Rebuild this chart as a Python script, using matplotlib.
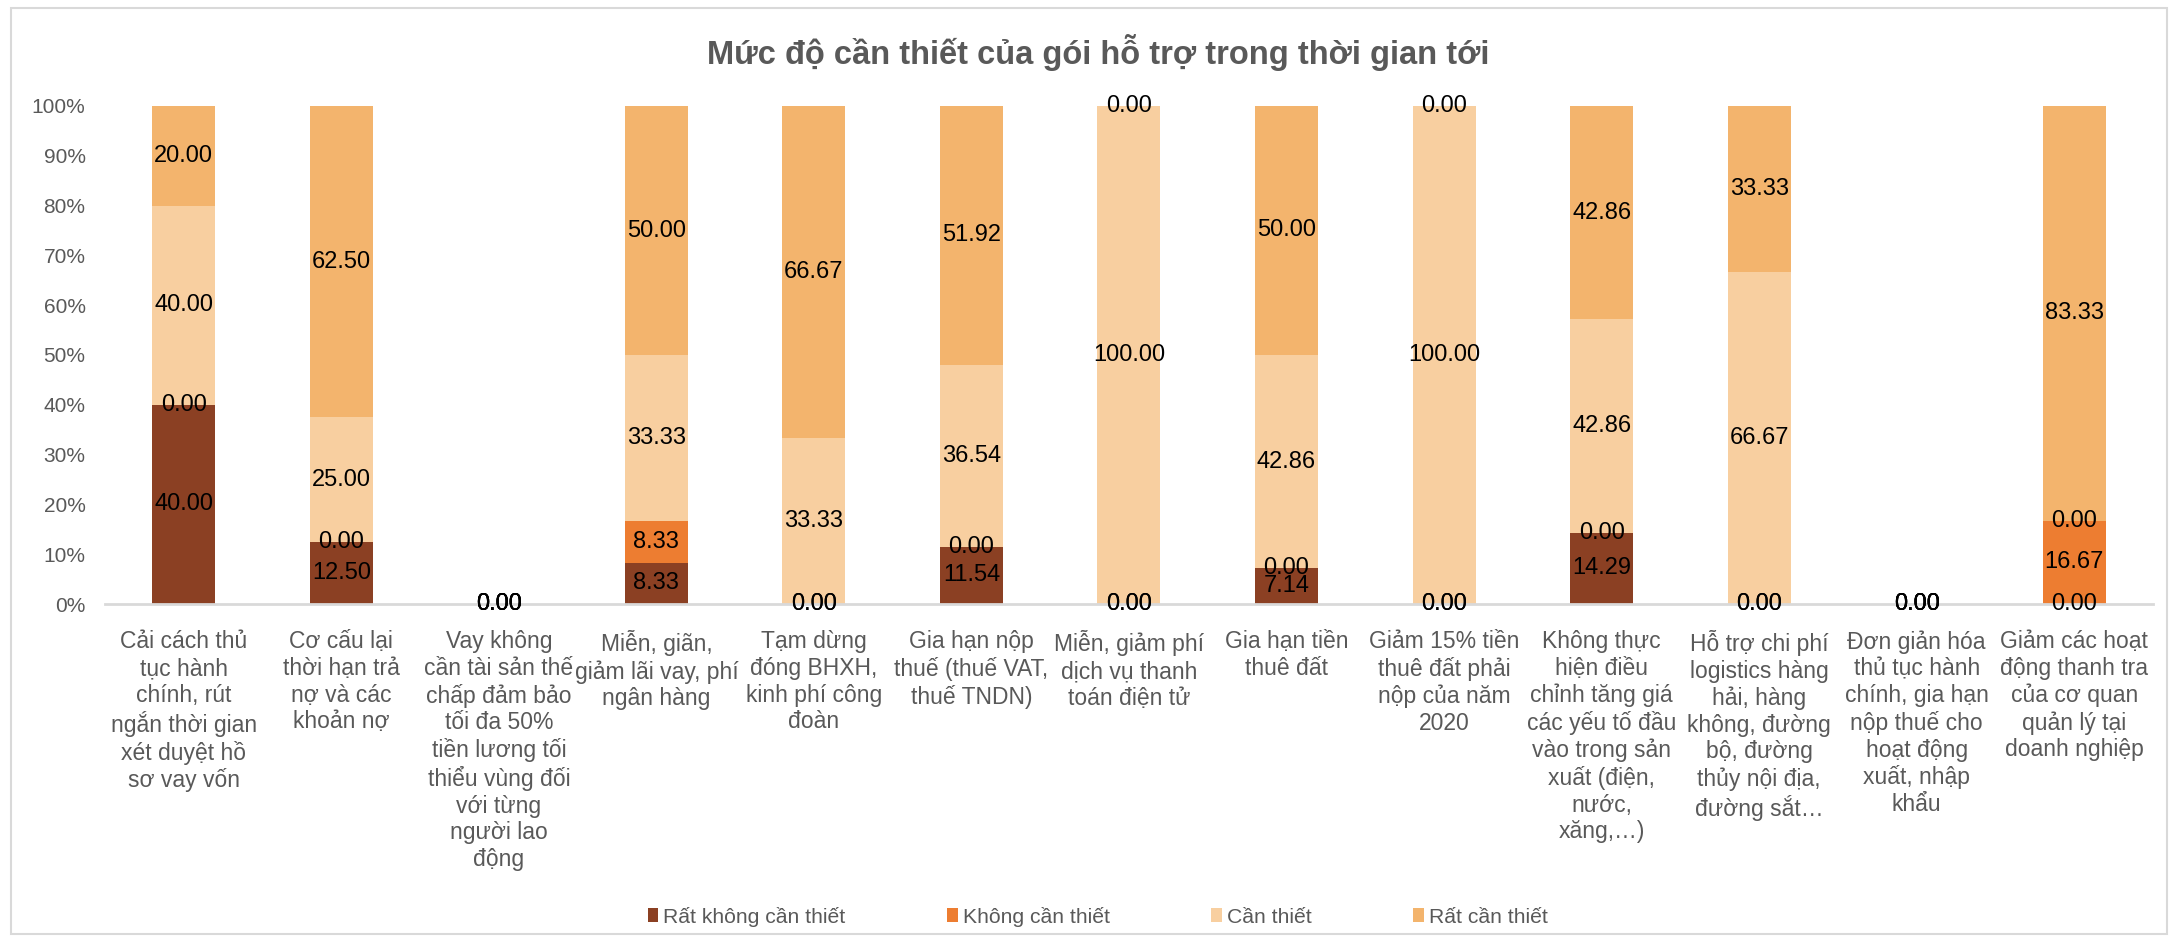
import matplotlib
matplotlib.use("Agg")
import matplotlib.pyplot as plt
import matplotlib.patches as mpatches
import numpy as np

plt.rcParams["font.family"] = ["Liberation Sans", "DejaVu Sans"]

categories = [
    "Cải cách thủ\ntục hành\nchính, rút\nngắn thời gian\nxét duyệt hồ\nsơ vay vốn",
    "Cơ cấu lại\nthời hạn trả\nnợ và các\nkhoản nợ",
    "Vay không\ncần tài sản thế\nchấp đảm bảo\ntối đa 50%\ntiền lương tối\nthiểu vùng đối\nvới từng\nngười lao\nđộng",
    "Miễn, giãn,\ngiảm lãi vay, phí\nngân hàng",
    "Tạm dừng\nđóng BHXH,\nkinh phí công\nđoàn",
    "Gia hạn nộp\nthuế (thuế VAT,\nthuế TNDN)",
    "Miễn, giảm phí\ndịch vụ thanh\ntoán điện tử",
    "Gia hạn tiền\nthuê đất",
    "Giảm 15% tiền\nthuê đất phải\nnộp của năm\n2020",
    "Không thực\nhiện điều\nchỉnh tăng giá\ncác yếu tố đầu\nvào trong sản\nxuất (điện,\nnước,\nxăng,…)",
    "Hỗ trợ chi phí\nlogistics hàng\nhải, hàng\nkhông, đường\nbộ, đường\nthủy nội địa,\nđường sắt…",
    "Đơn giản hóa\nthủ tục hành\nchính, gia hạn\nnộp thuế cho\nhoạt động\nxuất, nhập\nkhẩu",
    "Giảm các hoạt\nđộng thanh tra\ncủa cơ quan\nquản lý tại\ndoanh nghiệp",
]

rat_khong_can = [40.00, 12.50, 0.00, 8.33, 0.00, 11.54, 0.00, 7.14, 0.00, 14.29, 0.00, 0.00, 0.00]
khong_can = [0.00, 0.00, 0.00, 8.33, 0.00, 0.00, 0.00, 0.00, 0.00, 0.00, 0.00, 0.00, 16.67]
can_thiet = [40.00, 25.00, 0.00, 33.33, 33.33, 36.54, 100.00, 42.86, 100.00, 42.86, 66.67, 0.00, 0.00]
rat_can = [20.00, 62.50, 0.00, 50.00, 66.67, 51.92, 0.00, 50.00, 0.00, 42.86, 33.33, 0.00, 83.33]

series_names = ["Rất không cần thiết", "Không cần thiết", "Cần thiết", "Rất cần thiết"]
series = [rat_khong_can, khong_can, can_thiet, rat_can]
colors = ["#8B4023", "#ED7D31", "#F8CFA0", "#F3B46D"]

gray = "#595959"

fig = plt.figure(figsize=(21.78, 9.42), dpi=100)
ax = fig.add_axes([0.0482, 0.3588, 0.9403, 0.5287])

x = np.arange(len(categories))
bottom = np.zeros(len(categories))
for name, vals, c in zip(series_names, series, colors):
    vals = np.array(vals)
    ax.bar(x, vals, width=0.4, bottom=bottom, color=c, label=name, zorder=2)
    # data labels in the middle of each segment (zero segments too, like Excel)
    for xi, b, v in zip(x, bottom, vals):
        ax.text(xi, b + v / 2, f"{v:.2f}", ha="center", va="center",
                fontsize=17, color="black", zorder=3, clip_on=False)
    bottom += vals

ax.set_xlim(-0.5, len(categories) - 0.5)
ax.set_ylim(0, 100)
ax.set_yticks(np.arange(0, 101, 10))
ax.set_yticklabels([f"{v}%" for v in range(0, 101, 10)])
ax.set_xticks(x)
ax.set_xticklabels(categories, fontsize=16.5, color=gray, linespacing=1.2, va="top")
ax.tick_params(axis="y", length=0, labelsize=15, labelcolor=gray, pad=14)
ax.tick_params(axis="x", length=0, pad=19)

for s in ["top", "right", "left"]:
    ax.spines[s].set_visible(False)
ax.spines["bottom"].set_color("#D9D9D9")
ax.spines["bottom"].set_linewidth(2)

fig.text(0.504, 0.944, "Mức độ cần thiết của gói hỗ trợ trong thời gian tới",
         ha="center", va="center", fontsize=23.5, fontweight="bold", color=gray)

fig.legend(loc="center", bbox_to_anchor=(0.504, 0.027), ncol=4, frameon=False,
           fontsize=15.2, labelcolor=gray, handlelength=0.5, handleheight=0.65,
           handletextpad=0.25, columnspacing=4.8)

# chart border
fig.patches.append(mpatches.Rectangle((0.005, 0.008), 0.99, 0.984, transform=fig.transFigure,
                                      fill=False, edgecolor="#D9D9D9", linewidth=1.5))

plt.savefig("out.png", dpi=100)
